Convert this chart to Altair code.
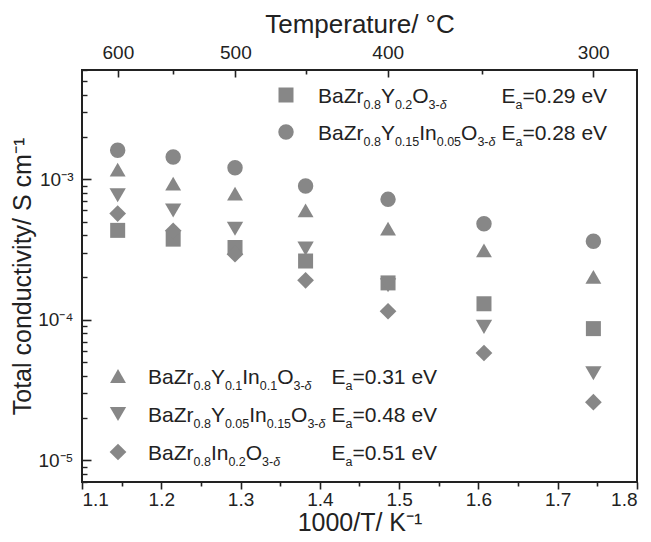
import altair as alt
import pandas as pd

# ---------------- data ----------------
SERIES = [
    "BaZr0.8Y0.2O3-d",
    "BaZr0.8Y0.15In0.05O3-d",
    "BaZr0.8Y0.1In0.1O3-d",
    "BaZr0.8Y0.05In0.15O3-d",
    "BaZr0.8In0.2O3-d",
]
X_VALUES = [1.145, 1.215, 1.293, 1.382, 1.486, 1.607, 1.745]  # 1000/T (K^-1)
SIGMA_Y02 = [4.33e-4, 3.75e-4, 3.27e-4, 2.62e-4, 1.83e-4, 1.30e-4, 8.65e-5]
SIGMA_Y015_IN005 = [1.61e-3, 1.44e-3, 1.21e-3, 8.97e-4, 7.2e-4, 4.83e-4, 3.62e-4]
SIGMA_Y01_IN01 = [1.17e-3, 9.3e-4, 7.9e-4, 6.0e-4, 4.45e-4, 3.12e-4, 2.02e-4]
SIGMA_Y005_IN015 = [7.7e-4, 6.0e-4, 4.45e-4, 3.21e-4, 1.76e-4, 8.9e-5, 4.16e-5]
SIGMA_IN02 = [5.7e-4, 4.3e-4, 2.93e-4, 1.91e-4, 1.15e-4, 5.8e-5, 2.59e-5]
ALL_SIGMA = [SIGMA_Y02, SIGMA_Y015_IN005, SIGMA_Y01_IN01, SIGMA_Y005_IN015, SIGMA_IN02]

EA_TEXT = ["=0.29 eV", "=0.28 eV", "=0.31 eV", "=0.48 eV", "=0.51 eV"]
# legend formula pieces: (text, kind) n = normal, s = subscript, i = italic subscript
FORMULA_PARTS = [
    [("BaZr", "n"), ("0.8", "s"), ("Y", "n"), ("0.2", "s"), ("O", "n"), ("3-", "s"), ("δ", "i")],
    [("BaZr", "n"), ("0.8", "s"), ("Y", "n"), ("0.15", "s"), ("In", "n"), ("0.05", "s"), ("O", "n"), ("3-", "s"), ("δ", "i")],
    [("BaZr", "n"), ("0.8", "s"), ("Y", "n"), ("0.1", "s"), ("In", "n"), ("0.1", "s"), ("O", "n"), ("3-", "s"), ("δ", "i")],
    [("BaZr", "n"), ("0.8", "s"), ("Y", "n"), ("0.05", "s"), ("In", "n"), ("0.15", "s"), ("O", "n"), ("3-", "s"), ("δ", "i")],
    [("BaZr", "n"), ("0.8", "s"), ("In", "n"), ("0.2", "s"), ("O", "n"), ("3-", "s"), ("δ", "i")],
]

X_TICKS = [1.1, 1.2, 1.3, 1.4, 1.5, 1.6, 1.7, 1.8]
X_MINOR = [1.15, 1.25, 1.35, 1.45, 1.55, 1.65, 1.75]
TOP_TEMPS = [600, 500, 400, 300]
TOP_MINOR_TEMPS = [550, 450, 350]
Y_TICKS = [1e-5, 1e-4, 1e-3]
Y_TICK_LABELS = ["10⁻⁵", "10⁻⁴", "10⁻³"]

# ---------------- styles ----------------
GRAY = "#878787"
INK = "#222222"
FONT = "Liberation Sans"
SHAPES = ["square", "circle", "triangle-up", "triangle-down", "diamond"]
SIZES = [225, 280, 361, 361, 361]
W, H = 555, 412
TITLE_SIZE = 25
LABEL_SIZE = 19

rows = []
for s, vals in zip(SERIES, ALL_SIGMA):
    for x, v in zip(X_VALUES, vals):
        rows.append({"series": s, "x": x, "sigma": v})
df = pd.DataFrame(rows)

xs = alt.Scale(domain=[1.1, 1.8], nice=False, zero=False)
ys = alt.Scale(type="log", domain=[7e-6, 6e-3], nice=False)
shape_enc = alt.Shape("series:N", scale=alt.Scale(domain=SERIES, range=SHAPES), legend=None)
size_enc = alt.Size("series:O", scale=alt.Scale(domain=SERIES, range=SIZES), legend=None)

top_vals = [1000.0 / (t + 273.15) for t in TOP_TEMPS]
top_minor_vals = [1000.0 / (t + 273.15) for t in TOP_MINOR_TEMPS]
y_minor = [m * 10.0 ** e for e in range(-6, -2) for m in range(2, 10)]
y_minor = [v for v in y_minor if 7e-6 <= v <= 6e-3]

lbl_expr_y = "[" + ",".join("'%s'" % t for t in Y_TICK_LABELS) + "][round(log(datum.value)/LN10)+5]"

blank = dict(grid=False, domain=False, labels=False, title=None)

# main points with bottom labels and left labels
points = alt.Chart(df).mark_point(filled=True, opacity=1, color=GRAY, strokeWidth=0).encode(
    x=alt.X("x:Q", scale=xs, axis=alt.Axis(
        orient="bottom", values=X_TICKS, format=".1f", grid=False, domain=False,
        tickSize=7, tickWidth=1.6, tickColor=INK, labelPadding=1,
        title="1000/T/ K⁻¹", titleBaseline="alphabetic", titleY=48)),
    y=alt.Y("sigma:Q", scale=ys, axis=alt.Axis(
        orient="left", values=Y_TICKS, labelExpr=lbl_expr_y, grid=False, domain=False,
        ticks=False, tickSize=0, labelPadding=9,
        title="Total conductivity/ S cm⁻¹", titleBaseline="alphabetic", titleX=-52)),
    shape=shape_enc,
    size=size_enc,
)

ghost = alt.Chart(df).mark_point(opacity=0)

layer_a = ghost.encode(
    x=alt.X("x:Q", scale=xs, axis=alt.Axis(orient="bottom", values=X_MINOR, tickSize=4,
                                           tickWidth=1.6, tickColor=INK, **blank)),
    y=alt.Y("sigma:Q", scale=ys, axis=alt.Axis(orient="left", values=Y_TICKS, offset=-9, tickSize=9,
                                               tickWidth=1.6, tickColor=INK, **blank)),
)
layer_b = ghost.encode(
    x=alt.X("x:Q", scale=xs, axis=alt.Axis(
        orient="top", values=top_vals, labelExpr="format(1000/datum.value - 273.15, '.0f')",
        grid=False, domain=False, ticks=False, tickSize=0, labelPadding=8,
        title="Temperature/ °C", titleBaseline="alphabetic", titleY=-38, titleFontSize=26)),
    y=alt.Y("sigma:Q", scale=ys, axis=alt.Axis(orient="left", values=y_minor, offset=-5, tickSize=5,
                                               tickWidth=1.4, tickColor=INK, **blank)),
)
layer_c = ghost.encode(
    x=alt.X("x:Q", scale=xs, axis=alt.Axis(orient="top", values=top_vals, offset=-7, tickSize=7,
                                           tickWidth=1.6, tickColor=INK, **blank)),
    y=alt.Y("sigma:Q", scale=ys, axis=None),
)
layer_d = ghost.encode(
    x=alt.X("x:Q", scale=xs, axis=alt.Axis(orient="top", values=top_minor_vals, offset=-4, tickSize=4,
                                           tickWidth=1.6, tickColor=INK, **blank)),
    y=alt.Y("sigma:Q", scale=ys, axis=None),
)

# ---------------- legend (built as marks) ----------------
MAIN, SUB, SUB_DY = 21, 12.5, 6
CW = {'B': 667, 'a': 556, 'Z': 611, 'r': 333, 'Y': 667, 'O': 778, 'I': 278, 'n': 556,
      'E': 667, 'e': 556, 'V': 667, '=': 584, ' ': 278, '.': 278, '-': 333, 'δ': 556}


def tw(text, size):
    return sum(CW.get(c, 556) for c in text) * size / 1000.0


def fw(parts):
    return sum(tw(t, MAIN if k == "n" else SUB) for t, k in parts)


BLOCKS = [
    {"idx": [0, 1], "mx": 204, "tx": 236, "rows": [25, 62]},
    {"idx": [2, 3, 4], "mx": 36, "tx": 66, "rows": [306, 344, 382]},
]
mk_rows, txt_rows = [], []
for b in BLOCKS:
    col = b["tx"] + max(fw(FORMULA_PARTS[i]) for i in b["idx"]) + 6
    for i, cy in zip(b["idx"], b["rows"]):
        mk_rows.append({"series": SERIES[i], "px": b["mx"], "py": cy})
        base = cy + 0.716 * MAIN / 2
        x = b["tx"]
        for t, k in FORMULA_PARTS[i]:
            txt_rows.append({"t": t, "k": k, "px": x, "py": base + (0 if k == "n" else SUB_DY)})
            x += tw(t, MAIN if k == "n" else SUB)
        x = col
        for t, k in [("E", "n"), ("a", "s"), (EA_TEXT[i], "n")]:
            txt_rows.append({"t": t, "k": k, "px": x, "py": base + (0 if k == "n" else SUB_DY)})
            x += tw(t, MAIN if k == "n" else SUB)

mk_df = pd.DataFrame(mk_rows)
txt_df = pd.DataFrame(txt_rows)

legend_marks = alt.Chart(mk_df).mark_point(filled=True, opacity=1, color=GRAY, strokeWidth=0).encode(
    x=alt.X("px:Q", scale=None), y=alt.Y("py:Q", scale=None), shape=shape_enc, size=size_enc)


def text_layer(kind, size, style):
    return alt.Chart(txt_df).transform_filter(alt.datum.k == kind).mark_text(
        align="left", baseline="alphabetic", font=FONT, fontSize=size, fontStyle=style, color=INK
    ).encode(x=alt.X("px:Q", scale=None), y=alt.Y("py:Q", scale=None), text="t:N")


legend_txt = [text_layer("n", MAIN, "normal"), text_layer("s", SUB, "normal"), text_layer("i", SUB, "italic")]

chart = alt.layer(points, layer_a, layer_b, layer_c, layer_d, legend_marks, *legend_txt).resolve_axis(
    x="independent", y="independent"
).properties(
    width=W, height=H,
    padding={"left": 74, "top": 62, "right": 6, "bottom": 52},
    autosize=alt.AutoSizeParams(type="none"),
).configure_view(stroke=INK, strokeWidth=2).configure_axis(
    labelFont=FONT, titleFont=FONT, labelFontSize=LABEL_SIZE, titleFontSize=TITLE_SIZE,
    titleFontWeight="normal", labelColor=INK, titleColor=INK,
)

chart.save("out.html", embed_options={"renderer": "svg", "actions": False})
